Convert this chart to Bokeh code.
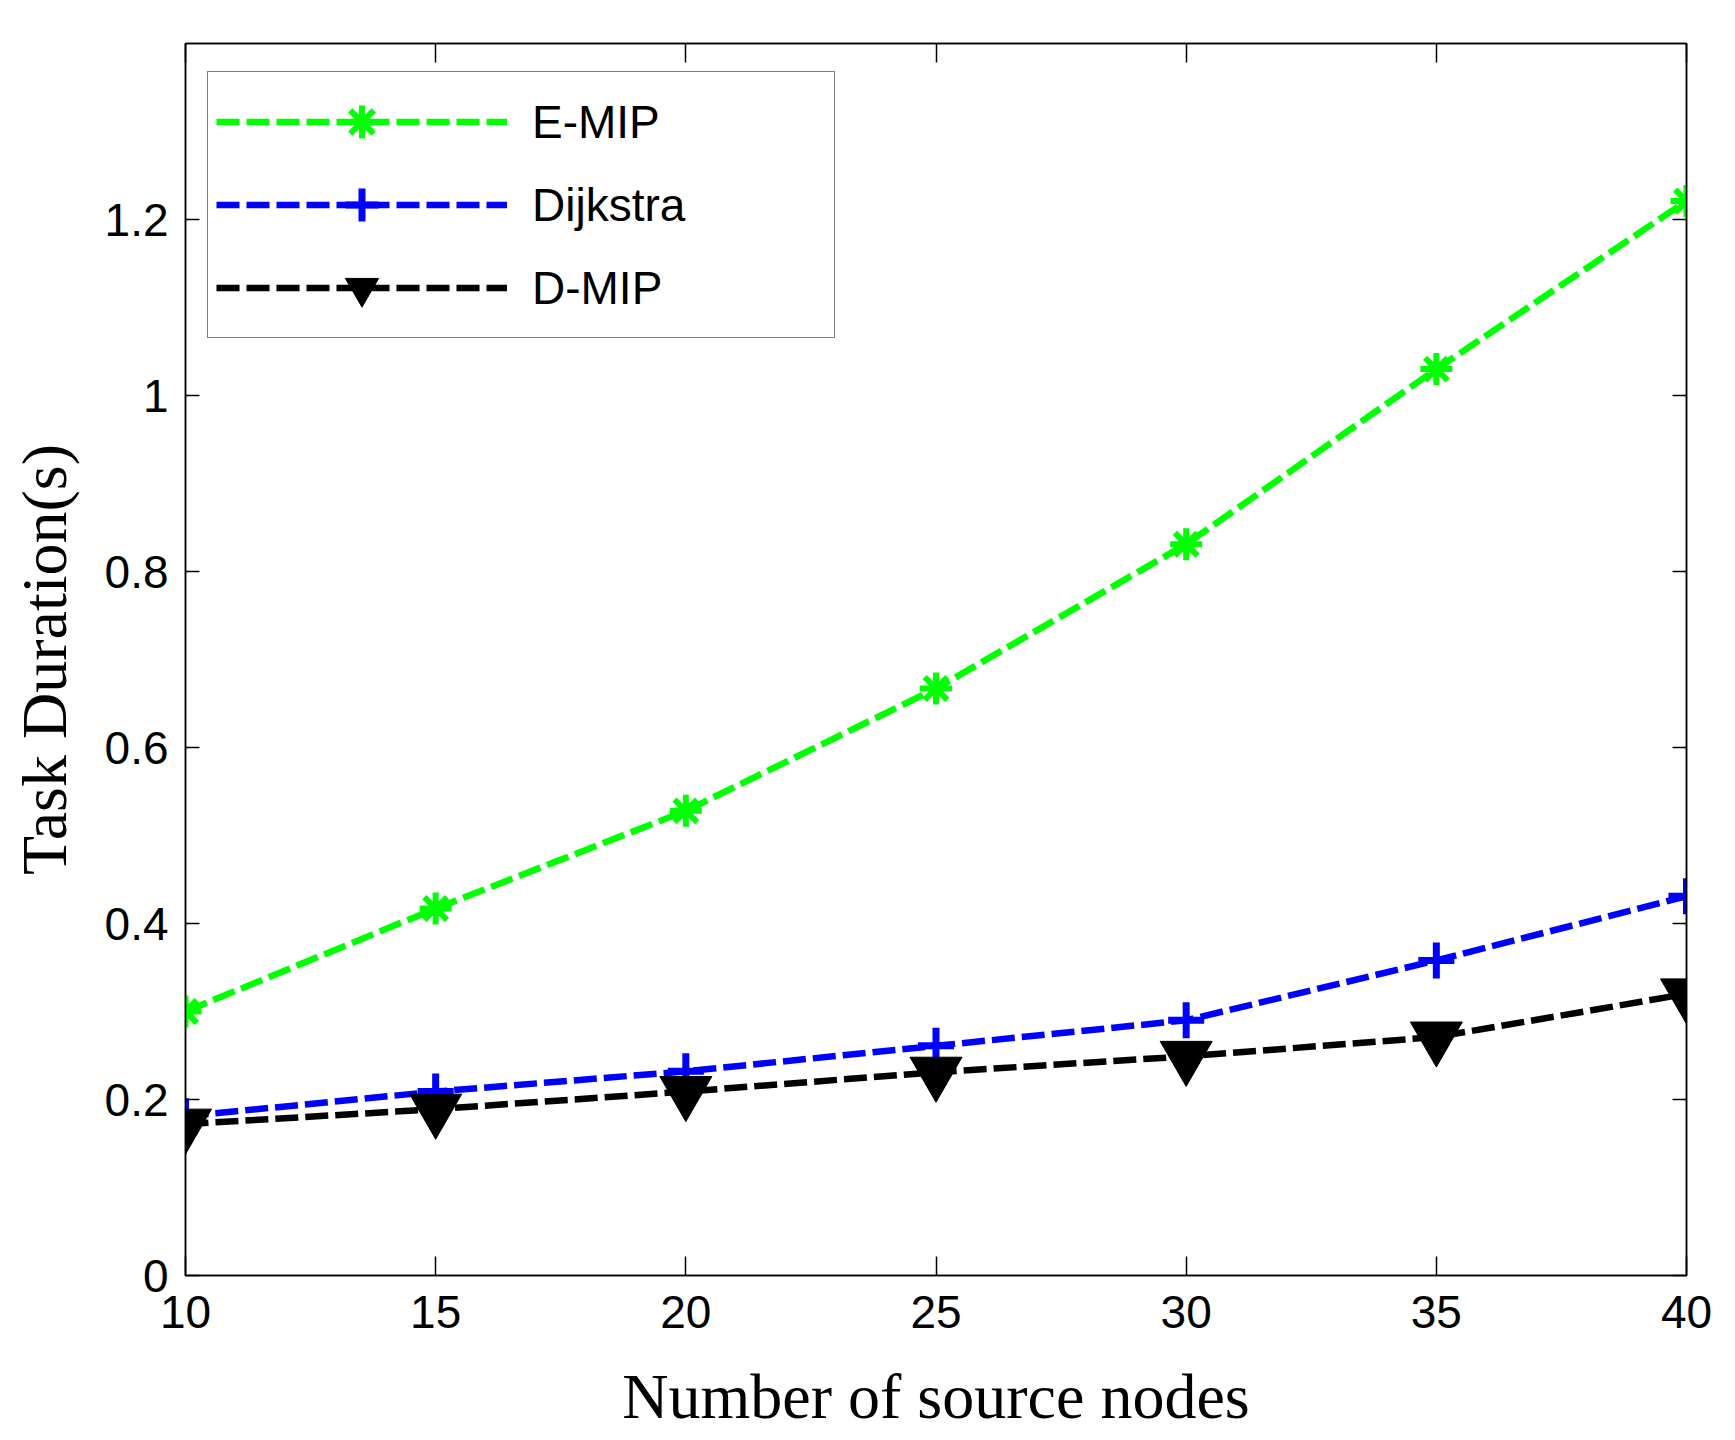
from bokeh.plotting import figure
from bokeh.models import LinearAxis, FixedTicker, Legend, LegendItem, Range1d
from bokeh.embed import file_html
from bokeh.resources import INLINE

nodes = [10, 15, 20, 25, 30, 35, 40]
emip = [0.300, 0.417, 0.528, 0.667, 0.831, 1.030, 1.221]
dijkstra = [0.181, 0.209, 0.232, 0.261, 0.290, 0.358, 0.431]
dmip = [0.172, 0.189, 0.209, 0.231, 0.249, 0.271, 0.320]

x_ticks = [10, 15, 20, 25, 30, 35, 40]
y_ticks = [0, 0.2, 0.4, 0.6, 0.8, 1.0, 1.2]
y_tick_labels = {0: "0", 0.2: "0.2", 0.4: "0.4", 0.6: "0.6", 0.8: "0.8", 1.0: "1", 1.2: "1.2"}
x_title = "Number of source nodes"
y_title = "Task Duration(s)"

GREEN = "#00FF00"
BLUE = "#0000FF"
BLACK = "#000000"
TICK_FONT = "Liberation Sans"
LABEL_FONT = "Liberation Serif"

p = figure(width=1735, height=1440, output_backend="svg", toolbar_location=None,
           x_range=Range1d(10, 40), y_range=Range1d(0, 1.4),
           min_border_left=185, min_border_right=49, min_border_top=43, min_border_bottom=165)
p.grid.visible = False
p.outline_line_color = BLACK
p.outline_line_width = 1.5
p.background_fill_color = "white"
p.border_fill_color = "white"

def style_axis(ax, tick_len, show_labels=True):
    ax.major_tick_in = tick_len
    ax.major_tick_out = 0
    ax.minor_tick_line_color = None
    ax.axis_line_color = BLACK
    ax.axis_line_width = 1.5
    ax.major_tick_line_color = BLACK
    ax.major_tick_line_width = 1.5
    if show_labels:
        ax.major_label_text_font = TICK_FONT
        ax.major_label_text_font_size = "46px"
        ax.major_label_text_color = BLACK
    else:
        ax.major_label_text_font_size = "0px"
        ax.major_label_text_color = None

p.xaxis.ticker = FixedTicker(ticks=x_ticks)
p.yaxis.ticker = FixedTicker(ticks=y_ticks)
p.yaxis.major_label_overrides = y_tick_labels
style_axis(p.xaxis[0], 19)
style_axis(p.yaxis[0], 14)
p.xaxis.major_label_standoff = 20
p.yaxis.major_label_standoff = 17
p.xaxis.axis_label = x_title
p.yaxis.axis_label = y_title
for ax in (p.xaxis[0], p.yaxis[0]):
    ax.axis_label_text_font = LABEL_FONT
    ax.axis_label_text_font_size = "64px"
    ax.axis_label_text_font_style = "normal"
    ax.axis_label_text_color = BLACK
p.xaxis.axis_label_standoff = 30
p.yaxis.axis_label_standoff = 22

top_ax = LinearAxis(ticker=FixedTicker(ticks=x_ticks))
style_axis(top_ax, 19, show_labels=False)
p.add_layout(top_ax, "above")
right_ax = LinearAxis(ticker=FixedTicker(ticks=y_ticks))
style_axis(right_ax, 14, show_labels=False)
p.add_layout(right_ax, "right")

DASH = "23 7"
LW = 6.5
l1 = p.line(nodes, emip, line_color=GREEN, line_width=LW, line_dash=DASH)
s1 = p.scatter(nodes, emip, marker="asterisk", size=32, line_color=GREEN, line_width=6)
l2 = p.line(nodes, dijkstra, line_color=BLUE, line_width=LW, line_dash=DASH)
s2 = p.scatter(nodes, dijkstra, marker="cross", size=36, line_color=BLUE, line_width=7)
l3 = p.line(nodes, dmip, line_color=BLACK, line_width=LW, line_dash=DASH)
s3 = p.scatter(nodes, dmip, marker="inverted_triangle", size=52, line_color=BLACK,
               fill_color=BLACK, line_width=1)

legend = Legend(items=[
    LegendItem(label="E-MIP", renderers=[l1, s1]),
    LegendItem(label="Dijkstra", renderers=[l2, s2]),
    LegendItem(label="D-MIP", renderers=[l3, s3]),
], location=(22, 937))
legend.label_text_font = TICK_FONT
legend.label_text_font_size = "46px"
legend.label_text_color = BLACK
legend.glyph_width = 291
legend.glyph_height = 83
legend.label_standoff = 25
legend.label_width = 294
legend.label_height = 52
legend.spacing = 0
legend.padding = 8
legend.margin = 0
legend.border_line_color = BLACK
legend.border_line_width = 1.5
legend.background_fill_color = "white"
legend.background_fill_alpha = 1.0
p.add_layout(legend)

open("out.html", "w").write(file_html(p, INLINE))
